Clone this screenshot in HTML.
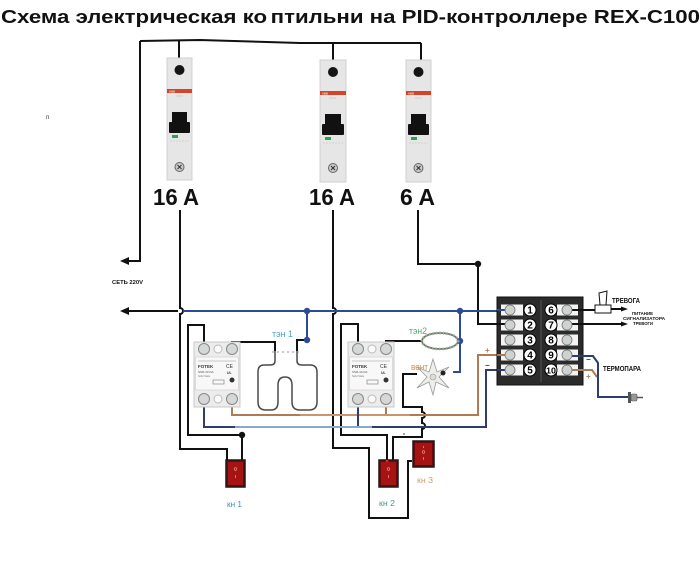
<!DOCTYPE html>
<html><head><meta charset="utf-8"><style>
html,body{margin:0;padding:0;background:#fff;}
svg{display:block;}
text{font-family:"Liberation Sans","DejaVu Sans",sans-serif;}
</style></head><body>
<svg width="700" height="571" viewBox="0 0 700 571" xmlns="http://www.w3.org/2000/svg">
<rect width="700" height="571" fill="#fff"/>

<!-- Title -->
<text x="1" y="23" font-size="18.5" font-weight="bold" textLength="699" lengthAdjust="spacingAndGlyphs" fill="#111">Схема электрическая ко<tspan dx="3">п</tspan>тильни на PID-контроллере REX-C100</text>

<text x="46" y="119" font-size="6" fill="#333">п</text>

<!-- ===== Black wires ===== -->
<g fill="none" stroke="#111" stroke-width="2" stroke-linejoin="miter">
  <path d="M140,41 L200,40 L300,43 L421,43"/>
  <path d="M140,41 V261 H128"/>
  <path d="M179,40 V58 M333,43 V60 M421,43 V60"/>
  <path d="M180,210 V308 A3,3 0 0 1 180,314 V449 H227 V460"/>
  <path d="M178,311 H128"/>
  <path d="M333,210 V308 A3,3 0 0 1 333,314 V448 H369 V518 H408 V461 H412"/>
  <path d="M418,210 V264 H478 V324 H498"/>
  <path d="M204,349 V325 H188 V435 H242 V460"/>
  <path d="M232,349 V342 H275 V351"/>
  <path d="M307,340 H297 V351"/>
  <path d="M358,349 V324 H341 V435 H387 V460"/>
  <path d="M386,349 V341 H422"/>
  <path d="M417,374 H403 V407 H422 V412 A3,3 0 0 1 422,418 V423 A3,3 0 0 1 422,429 V437 H393 V460"/>
  <path d="M583,310 H595"/>
  <path d="M583,324 H623"/>
  <path d="M611,309 H623"/>
</g>
<!-- arrowheads -->
<g fill="#111">
  <polygon points="120,261 129,257 129,265"/>
  <polygon points="120,311 129,307 129,315"/>
  <polygon points="628,309 621,306.5 621,311.5"/>
  <polygon points="628,324 621,321.5 621,326.5"/>
  <circle cx="478" cy="264" r="3.2"/>
  <circle cx="242" cy="435" r="3.2"/>
</g>

<!-- ===== Blue wires ===== -->
<g fill="none" stroke="#2d4a95" stroke-width="2">
  <path d="M183,311 H498"/>
  <path d="M307,311 V340"/>
  <path d="M460,311 V372 H453"/>
  <path d="M458,341 H460"/>
</g>
<g fill="#2d4a95">
  <circle cx="307" cy="311" r="3.2"/>
  <circle cx="460" cy="311" r="3.2"/>
  <circle cx="307" cy="340" r="3.2"/>
  <circle cx="460" cy="341" r="3.2"/>
</g>

<!-- ===== Brown wires ===== -->
<g fill="none" stroke="#b07a55" stroke-width="2">
  <path d="M232,399 V415 H478 V355 H498"/>
  <path d="M386,399 V415"/>
  <path d="M583,370 H592 L597,377"/>
</g>
<path d="M300,415 H410" stroke="#c9956f" stroke-width="2"/>
<!-- ===== Navy wires ===== -->
<g fill="none" stroke="#2e3d70" stroke-width="2">
  <path d="M204,399 V427 H486 V370 H498"/>
  <path d="M358,399 V427"/>
  <path d="M583,356 H593 L598,363 V397 H628"/>
</g>
<path d="M235,427 H372" stroke="#8aaacc" stroke-width="2"/>

<!-- ===== Breakers ===== -->
<g transform="translate(167,58)">
  <rect x="0" y="0" width="25" height="122" fill="#e6e6e6" stroke="#d0d0d0"/>
  <circle cx="12.5" cy="12" r="5" fill="#151515"/>
  <rect x="0" y="31" width="25" height="4" fill="#d2452b"/>
  <text x="2" y="34.3" font-size="3" fill="#fff">ABB</text>
  <line x1="9" y1="38" x2="16" y2="38" stroke="#c8c8c8" stroke-width="0.8"/>
  <rect x="5" y="54" width="15" height="11" fill="#111"/>
  <rect x="2" y="64" width="21" height="11" rx="1" fill="#111"/>
  <rect x="5" y="77" width="6" height="3" fill="#2ca24a"/>
  <line x1="3" y1="83" x2="22" y2="83" stroke="#bbb" stroke-width="0.6" stroke-dasharray="2,1"/>
  <circle cx="12.5" cy="109" r="4.5" fill="#c9c9c9" stroke="#666"/>
  <path d="M10.5,107 L14.5,111 M14.5,107 L10.5,111" stroke="#333" stroke-width="1"/>
</g>
<g transform="translate(320,60)">
  <rect x="0" y="0" width="26" height="122" fill="#e6e6e6" stroke="#d0d0d0"/>
  <circle cx="13" cy="12" r="5" fill="#151515"/>
  <rect x="0" y="31" width="26" height="4" fill="#d2452b"/>
  <text x="2" y="34.3" font-size="3" fill="#fff">ABB</text>
  <line x1="9" y1="38" x2="16" y2="38" stroke="#c8c8c8" stroke-width="0.8"/>
  <rect x="5" y="54" width="16" height="11" fill="#111"/>
  <rect x="2" y="64" width="22" height="11" rx="1" fill="#111"/>
  <rect x="5" y="77" width="6" height="3" fill="#2ca24a"/>
  <line x1="3" y1="83" x2="23" y2="83" stroke="#bbb" stroke-width="0.6" stroke-dasharray="2,1"/>
  <circle cx="13" cy="108" r="4.5" fill="#c9c9c9" stroke="#666"/>
  <path d="M11,106 L15,110 M15,106 L11,110" stroke="#333" stroke-width="1"/>
</g>
<g transform="translate(406,60)">
  <rect x="0" y="0" width="25" height="122" fill="#e6e6e6" stroke="#d0d0d0"/>
  <circle cx="12.5" cy="12" r="5" fill="#151515"/>
  <rect x="0" y="31" width="25" height="4" fill="#d2452b"/>
  <text x="2" y="34.3" font-size="3" fill="#fff">ABB</text>
  <line x1="9" y1="38" x2="16" y2="38" stroke="#c8c8c8" stroke-width="0.8"/>
  <rect x="5" y="54" width="15" height="11" fill="#111"/>
  <rect x="2" y="64" width="21" height="11" rx="1" fill="#111"/>
  <rect x="5" y="77" width="6" height="3" fill="#2ca24a"/>
  <line x1="3" y1="83" x2="22" y2="83" stroke="#bbb" stroke-width="0.6" stroke-dasharray="2,1"/>
  <circle cx="12.5" cy="108" r="4.5" fill="#c9c9c9" stroke="#666"/>
  <path d="M10.5,106 L14.5,110 M14.5,106 L10.5,110" stroke="#333" stroke-width="1"/>
</g>

<g font-weight="bold" font-size="23" fill="#111">
  <text x="153" y="205" textLength="46" lengthAdjust="spacingAndGlyphs">16 A</text>
  <text x="309" y="205" textLength="46" lengthAdjust="spacingAndGlyphs">16 A</text>
  <text x="400" y="205" textLength="35" lengthAdjust="spacingAndGlyphs">6 A</text>
</g>

<text x="112" y="284" font-size="5.5" font-weight="bold" fill="#111" textLength="31" lengthAdjust="spacingAndGlyphs">СЕТЬ 220V</text>

<!-- ===== SSR 1 ===== -->
<g transform="translate(194,342)">
  <rect x="0" y="0" width="46" height="65" fill="#ececec" stroke="#c8c8c8"/>
  <circle cx="10" cy="7" r="5.5" fill="#d5d9d5" stroke="#888"/>
  <circle cx="24" cy="7" r="4" fill="#fafafa" stroke="#bbb"/>
  <circle cx="38" cy="7" r="5.5" fill="#d5d9d5" stroke="#888"/>
  <rect x="1.5" y="15" width="43" height="33" fill="#f8f8f8" stroke="#ccc" stroke-width="0.6"/>
  <line x1="4" y1="19" x2="42" y2="19" stroke="#999" stroke-width="0.6"/>
  <text x="4" y="26" font-size="4.5" font-weight="bold" fill="#333">FOTEK</text>
  <text x="4" y="31" font-size="3" fill="#555">SSR-40 DA</text>
  <text x="4" y="35" font-size="2.5" fill="#777">Solid State</text>
  <text x="32" y="26" font-size="5" fill="#333">CE</text>
  <text x="33" y="32" font-size="3.5" font-weight="bold" fill="#333">UL</text>
  <circle cx="38" cy="38" r="2.5" fill="#333"/>
  <rect x="19" y="38" width="11" height="4" fill="none" stroke="#777" stroke-width="0.6"/>
  <circle cx="10" cy="57" r="5.5" fill="#d5d9d5" stroke="#888"/>
  <circle cx="24" cy="57" r="4" fill="#fafafa" stroke="#bbb"/>
  <circle cx="38" cy="57" r="5.5" fill="#d5d9d5" stroke="#888"/>
</g>
<!-- ===== SSR 2 ===== -->
<g transform="translate(348,342)">
  <rect x="0" y="0" width="46" height="65" fill="#ececec" stroke="#c8c8c8"/>
  <circle cx="10" cy="7" r="5.5" fill="#d5d9d5" stroke="#888"/>
  <circle cx="24" cy="7" r="4" fill="#fafafa" stroke="#bbb"/>
  <circle cx="38" cy="7" r="5.5" fill="#d5d9d5" stroke="#888"/>
  <rect x="1.5" y="15" width="43" height="33" fill="#f8f8f8" stroke="#ccc" stroke-width="0.6"/>
  <line x1="4" y1="19" x2="42" y2="19" stroke="#999" stroke-width="0.6"/>
  <text x="4" y="26" font-size="4.5" font-weight="bold" fill="#333">FOTEK</text>
  <text x="4" y="31" font-size="3" fill="#555">SSR-40 DA</text>
  <text x="4" y="35" font-size="2.5" fill="#777">Solid State</text>
  <text x="32" y="26" font-size="5" fill="#333">CE</text>
  <text x="33" y="32" font-size="3.5" font-weight="bold" fill="#333">UL</text>
  <circle cx="38" cy="38" r="2.5" fill="#333"/>
  <rect x="19" y="38" width="11" height="4" fill="none" stroke="#777" stroke-width="0.6"/>
  <circle cx="10" cy="57" r="5.5" fill="#d5d9d5" stroke="#888"/>
  <circle cx="24" cy="57" r="4" fill="#fafafa" stroke="#bbb"/>
  <circle cx="38" cy="57" r="5.5" fill="#d5d9d5" stroke="#888"/>
</g>

<!-- ===== Heater 1 ===== -->
<path d="M275,351 L275,361 Q275,365 270,365 L264,365 Q258,365 258,372 L258,402 Q258,410 266,410 L271,410 Q278,410 278,402 L278,385 Q278,377 285,377 Q292,377 292,385 L292,402 Q292,410 300,410 L309,410 Q317,410 317,402 L317,372 Q317,365 310,365 L302,365 Q297,365 297,361 L297,351" fill="none" stroke="#4a4a4a" stroke-width="1.5"/>
<path d="M272,352 H300" stroke="#777" stroke-width="0.8" stroke-dasharray="2,3"/>
<text x="272" y="337" font-size="9" fill="#4da3c7" textLength="21" lengthAdjust="spacingAndGlyphs">тэн 1</text>

<!-- ===== Heater 2 ring ===== -->
<ellipse cx="440" cy="341" rx="18" ry="8" fill="none" stroke="#6f7a6a" stroke-width="1.8"/>
<ellipse cx="440" cy="341" rx="18" ry="8" fill="none" stroke="#a9b3a3" stroke-width="3" stroke-dasharray="1,2.5"/>
<text x="409" y="334" font-size="9" fill="#5aa86e" textLength="18" lengthAdjust="spacingAndGlyphs">тэн2</text>

<!-- ===== Fan ===== -->
<polygon points="433,359 437,372 449,367 439,377 449,388 436,382 433,395 429,382 417,388 427,377 417,367 429,372" fill="#eeeeea" stroke="#9a9a9a" stroke-width="0.8"/>
<circle cx="433" cy="377" r="3" fill="#ddd" stroke="#999" stroke-width="0.6"/>
<circle cx="443" cy="373" r="2.5" fill="#222"/>
<text x="411" y="370" font-size="9" fill="#d08f50" textLength="17" lengthAdjust="spacingAndGlyphs">вент</text>

<!-- ===== Switches ===== -->
<g>
  <rect x="226" y="460" width="19" height="27" fill="#6e0808" stroke="#1a1a1a" stroke-width="1.5"/>
  <rect x="228" y="462" width="15" height="23" fill="#a51313"/>
  <circle cx="235.5" cy="469" r="1.3" fill="none" stroke="#e99" stroke-width="0.6"/>
  <line x1="235.5" y1="475" x2="235.5" y2="478" stroke="#e99" stroke-width="0.7"/>

  <rect x="379" y="460" width="19" height="27" fill="#6e0808" stroke="#1a1a1a" stroke-width="1.5"/>
  <rect x="381" y="462" width="15" height="23" fill="#a51313"/>
  <circle cx="388.5" cy="469" r="1.3" fill="none" stroke="#e99" stroke-width="0.6"/>
  <line x1="388.5" y1="475" x2="388.5" y2="478" stroke="#e99" stroke-width="0.7"/>
  <circle cx="387" cy="461" r="1.3" fill="#e22"/>

  <rect x="413" y="441" width="21" height="26" fill="#6e0808" stroke="#1a1a1a" stroke-width="1.5"/>
  <rect x="415" y="443" width="17" height="22" fill="#a51313"/>
  <circle cx="423.5" cy="452" r="1.3" fill="none" stroke="#e99" stroke-width="0.6"/>
  <line x1="423.5" y1="446" x2="423.5" y2="448" stroke="#e99" stroke-width="0.7"/>
  <line x1="423.5" y1="457" x2="423.5" y2="460" stroke="#e99" stroke-width="0.7"/>
</g>
<text x="227" y="507" font-size="8" fill="#3f8fb8" textLength="15" lengthAdjust="spacingAndGlyphs">кн 1</text>
<text x="379" y="506" font-size="8" fill="#3f9a8a" textLength="16" lengthAdjust="spacingAndGlyphs">кн 2</text>
<text x="417" y="483" font-size="8" fill="#c8a070" textLength="16" lengthAdjust="spacingAndGlyphs">кн 3</text>
<circle cx="404" cy="434" r="0.8" fill="#333"/>

<!-- ===== Terminal block ===== -->
<rect x="497" y="297" width="86" height="88" fill="#2b2b2b" stroke="#111"/>
<line x1="541" y1="300" x2="541" y2="382" stroke="#555" stroke-width="1"/>
<g fill="#f3f3f3">
  <rect x="501" y="304.5" width="22" height="11"/>
  <rect x="501" y="319.5" width="22" height="11"/>
  <rect x="501" y="334.5" width="22" height="11"/>
  <rect x="501" y="349.5" width="22" height="11"/>
  <rect x="501" y="364.5" width="22" height="11"/>
  <rect x="557" y="304.5" width="21" height="11"/>
  <rect x="557" y="319.5" width="21" height="11"/>
  <rect x="557" y="334.5" width="21" height="11"/>
  <rect x="557" y="349.5" width="21" height="11"/>
  <rect x="557" y="364.5" width="21" height="11"/>
</g>
<!-- wire ends into terminals -->
<path d="M497,310 H510" stroke="#2d4a95" stroke-width="2"/>
<path d="M497,324 H510" stroke="#111" stroke-width="2"/>
<path d="M497,355 H510" stroke="#b07a55" stroke-width="2"/>
<path d="M497,370 H510" stroke="#2e3d70" stroke-width="2"/>
<path d="M567,310 H584 M567,324 H584" stroke="#111" stroke-width="2"/>
<path d="M567,356 H584" stroke="#2e3d70" stroke-width="2"/>
<path d="M567,370 H584" stroke="#b07a55" stroke-width="2"/>
<g fill="#cfd3cf" stroke="#777" stroke-width="0.8">
  <circle cx="510" cy="310" r="5"/><circle cx="510" cy="325" r="5"/><circle cx="510" cy="340" r="5"/><circle cx="510" cy="355" r="5"/><circle cx="510" cy="370" r="5"/>
  <circle cx="567" cy="310" r="5"/><circle cx="567" cy="325" r="5"/><circle cx="567" cy="340" r="5"/><circle cx="567" cy="355" r="5"/><circle cx="567" cy="370" r="5"/>
</g>
<g fill="#fff" stroke="#000" stroke-width="1">
  <circle cx="530" cy="310" r="6"/><circle cx="530" cy="325" r="6"/><circle cx="530" cy="340" r="6"/><circle cx="530" cy="355" r="6"/><circle cx="530" cy="370" r="6"/>
  <circle cx="551" cy="310" r="6"/><circle cx="551" cy="325" r="6"/><circle cx="551" cy="340" r="6"/><circle cx="551" cy="355" r="6"/><circle cx="551" cy="370" r="6"/>
</g>
<g font-family="Liberation Serif, serif" font-weight="bold" font-size="10" fill="#000" text-anchor="middle">
  <text x="530" y="313.5">1</text><text x="530" y="328.5">2</text><text x="530" y="343.5">3</text><text x="530" y="358.5">4</text><text x="530" y="373.5">5</text>
  <text x="551" y="313.5">6</text><text x="551" y="328.5">7</text><text x="551" y="343.5">8</text><text x="551" y="358.5">9</text><text x="551" y="373.5" font-size="8.5" textLength="10" lengthAdjust="spacingAndGlyphs">10</text>
</g>

<!-- polarity marks -->
<g font-size="8" font-weight="bold">
  <text x="485" y="353" fill="#b07a55">+</text>
  <text x="485" y="368" fill="#2e3d70">−</text>
  <text x="586" y="362" fill="#2e3d70">−</text>
  <text x="586" y="379" fill="#b07a55">+</text>
</g>

<!-- Alarm -->
<path d="M600,305 L599,293 L607,291 L606,305 Z" fill="#fff" stroke="#111" stroke-width="1"/>
<rect x="595" y="305" width="16" height="8" fill="#fff" stroke="#111" stroke-width="1"/>
<text x="612" y="303" font-size="7" font-weight="bold" fill="#111" textLength="28" lengthAdjust="spacingAndGlyphs">ТРЕВОГА</text>
<g font-size="4.5" font-weight="bold" fill="#111">
  <text x="632" y="315" textLength="21" lengthAdjust="spacingAndGlyphs">ПИТАНИЕ</text>
  <text x="623" y="320" textLength="42" lengthAdjust="spacingAndGlyphs">СИГНАЛИЗАТОРА</text>
  <text x="633" y="325" textLength="20" lengthAdjust="spacingAndGlyphs">ТРЕВОГИ</text>
</g>
<text x="603" y="371" font-size="7" font-weight="bold" fill="#111" textLength="38" lengthAdjust="spacingAndGlyphs">ТЕРМОПАРА</text>

<!-- Thermocouple -->
<rect x="628" y="392" width="3" height="11" fill="#555"/>
<rect x="631" y="394" width="6" height="7" rx="1.5" fill="#999" stroke="#555" stroke-width="0.6"/>
<line x1="637" y1="397.5" x2="643" y2="397.5" stroke="#555" stroke-width="1.5"/>
</svg>
</body></html>
